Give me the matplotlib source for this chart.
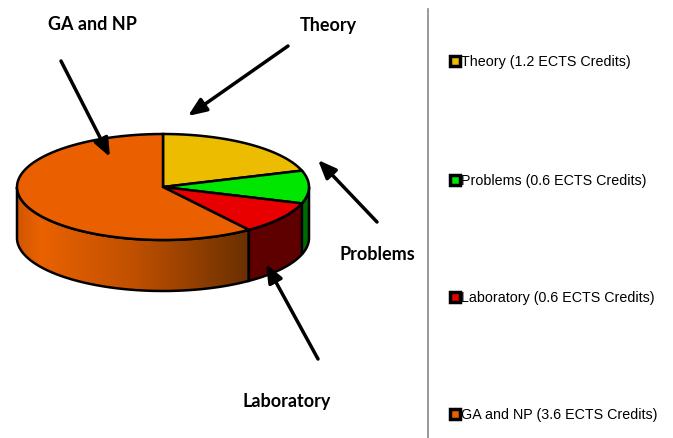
import numpy as np
import matplotlib.pyplot as plt
from matplotlib.patches import Polygon
from matplotlib.colors import LinearSegmentedColormap

# Data
labels = ['Theory', 'Problems', 'Laboratory', 'GA and NP']
credits = [1.2, 0.6, 0.6, 3.6]
legend_labels = ['Theory (1.2 ECTS Credits)', 'Problems (0.6 ECTS Credits)',
                 'Laboratory (0.6 ECTS Credits)', 'GA and NP (3.6 ECTS Credits)']
top_colors = ['#EBBC00', '#00E600', '#E80000', '#EA6000']
side_colors = ['#9A7A00', '#006C00', '#5E0000', '#EA6000']

# Pie geometry in pixel coordinates
cx, cy, a, b, depth = 163, 188, 146, 53, 51

fig = plt.figure(figsize=(6.73, 4.39), dpi=100)
ax = fig.add_axes([0, 0, 1, 1])
ax.set_xlim(0, 673)
ax.set_ylim(439, 0)
ax.axis('off')


def arc(t1, t2, dy=0, n=80):
    t = np.radians(np.linspace(t1, t2, n))
    return np.column_stack([cx + a * np.cos(t), cy - b * np.sin(t) + dy])


# slice angles, clockwise from 12 o'clock
total = sum(credits)
starts = 90 - np.concatenate([[0], np.cumsum(credits)[:-1]]) * 360 / total
ends = starts - np.array(credits) * 360 / total

# side walls (front half only)
for i in range(len(credits)):
    lo, hi = max(ends[i], -180), min(starts[i], 0)
    if lo >= hi:
        continue
    top = arc(hi, lo)
    bot = arc(lo, hi, dy=depth)
    pts = np.vstack([top, bot])
    if labels[i] == 'GA and NP':
        cmap = LinearSegmentedColormap.from_list(
            'side', [(0, '#D05600'), (0.1, '#EA6200'), (0.5, '#C05000'), (1, '#6A3000')])
        x0, x1 = pts[:, 0].min(), pts[:, 0].max()
        grad = np.linspace(0, 1, 256).reshape(1, -1)
        im = ax.imshow(grad, cmap=cmap, aspect='auto',
                       extent=[x0, x1, pts[:, 1].max(), pts[:, 1].min()], zorder=1)
        clip = Polygon(pts, closed=True, facecolor='none', edgecolor='none')
        ax.add_patch(clip)
        im.set_clip_path(clip)
        ax.add_patch(Polygon(pts, closed=True, facecolor='none',
                             edgecolor='black', lw=1.8, zorder=2))
    else:
        ax.add_patch(Polygon(pts, closed=True, facecolor=side_colors[i],
                             edgecolor='black', lw=1.8, zorder=2))

# top faces
for i in range(len(credits)):
    pts = np.vstack([[cx, cy], arc(starts[i], ends[i])])
    ax.add_patch(Polygon(pts, closed=True, facecolor=top_colors[i],
                         edgecolor='black', lw=1.8, zorder=3))

# annotations with arrows
callouts = {
    'GA and NP': ((92, 25), (61, 62), (110, 158)),
    'Theory': ((328, 25), (288, 47), (188, 117)),
    'Problems': ((377, 255), (377, 223), (318, 161)),
    'Laboratory': ((287, 402), (318, 360), (266, 265)),
}
for name, (tpos, start, tip) in callouts.items():
    ax.text(*tpos, name, ha='center', va='center', fontsize=13,
            fontweight='bold', family=['Lato', 'DejaVu Sans'], color='black', zorder=5)
    ax.annotate('', xy=tip, xytext=start,
                arrowprops=dict(arrowstyle='-|>,head_length=1.1,head_width=0.45',
                                lw=2.5, color='black', shrinkA=0, shrinkB=0),
                zorder=5)

# separator line
ax.plot([428, 428], [10, 439], color='#888888', lw=1.2)

# legend
leg_y = [62, 181, 298, 415]
for lbl, col, y in zip(legend_labels, top_colors, leg_y):
    ax.plot([455], [y], marker='s', ms=7.5, mfc=col, mec='black', mew=2.5)
    ax.text(461, y, lbl, ha='left', va='center', fontsize=10.3,
            family=['Liberation Sans', 'DejaVu Sans'], color='black')

fig.savefig('out.png', dpi=100)
